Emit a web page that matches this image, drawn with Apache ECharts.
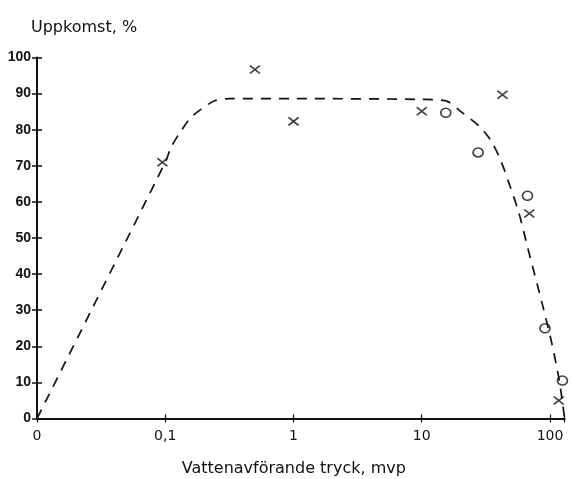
<!DOCTYPE html>
<html>
<head>
<meta charset="utf-8">
<script src="https://cdn.jsdelivr.net/npm/echarts@6/dist/echarts.min.js"></script>
<style>
  html, body { margin: 0; padding: 0; background: #fff; }
  #chart { width: 572px; height: 479px; }
</style>
</head>
<body>
<div id="chart"></div>
<script>
// Water-holding pressure (mvp, log scale; the axis origin is labelled 0) vs. emergence (%)
var xTickValues = [0.01, 0.1, 1, 10, 100];
var xTickLabels = ['0', '0,1', '1', '10', '100'];

// Fitted dashed curve
var curveX = [0.01, 0.1, 0.111, 0.133, 0.159, 0.191, 0.243, 0.318, 1, 10, 15.4, 20.2, 28, 34.6, 41.4, 48.1, 57.5, 66.8, 87.5, 102, 118, 130];
var curveY = [0, 71, 75.1, 79.7, 83.4, 85.7, 88, 88.6, 88.6, 88.4, 88, 85, 81, 77, 71.4, 65, 56.7, 47.5, 31.4, 21.7, 10.6, 0];

// Observations marked with a cross
var crossX = [0.095, 0.5, 1, 10, 42.6, 69, 117];
var crossY = [71, 96.7, 82.3, 85.1, 89.7, 56.8, 5];

// Observations marked with a circle
var circleX = [15.4, 27.5, 66.8, 91.4, 125];
var circleY = [84.7, 73.7, 61.7, 25, 10.5];

function zip(xs, ys) { return xs.map(function (x, i) { return [x, ys[i]]; }); }

function xLabel(value) {
  for (var i = 0; i < xTickValues.length; i++) {
    if (Math.abs(Math.log10(xTickValues[i]) - Math.log10(value)) < 1e-6) return xTickLabels[i];
  }
  return '';
}

var ink = '#111';
// Both grids share one box: the second one only carries the inward half of the crossing ticks
var gridBox = { left: 37, right: 7.4, top: 57.5, bottom: 60.5, containLabel: false, outerBoundsMode: 'none' };
var xMin = 0.01, xMax = 130;

var chart = echarts.init(document.getElementById('chart'), null, { renderer: 'canvas' });
chart.setOption({
  animation: false,
  backgroundColor: '#fff',
  title: {
    text: 'Uppkomst, %',
    left: 26, top: 15,
    textStyle: { fontFamily: 'DejaVu Sans', fontSize: 16, fontWeight: 'normal', color: ink }
  },
  grid: [
    Object.assign({}, gridBox),
    Object.assign({}, gridBox)
  ],
  xAxis: [{
    type: 'log', logBase: 10, gridIndex: 0,
    min: xMin, max: xMax,
    name: 'Vattenavförande tryck, mvp',
    nameLocation: 'middle', nameGap: 42,
    nameTextStyle: { fontFamily: 'DejaVu Sans', fontSize: 16, color: ink, padding: [0, 14, 0, 0] },
    axisLine: { show: true, lineStyle: { color: ink, width: 2 } },
    axisTick: { show: true, inside: false, length: 4, lineStyle: { color: ink, width: 1.2 } },
    axisLabel: {
      show: true, margin: 11, formatter: xLabel,
      fontFamily: 'DejaVu Sans', fontSize: 14, color: ink,
      showMinLabel: true, showMaxLabel: true
    },
    splitLine: { show: false }, minorTick: { show: false }
  }, {
    type: 'log', logBase: 10, gridIndex: 1,
    min: xMin, max: xMax, position: 'bottom',
    axisLine: { show: false },
    axisTick: { show: true, inside: true, length: 4, lineStyle: { color: ink, width: 1.2 } },
    axisLabel: { show: false },
    splitLine: { show: false }
  }],
  yAxis: [{
    type: 'value', gridIndex: 0,
    min: 0, max: 100, interval: 10,
    axisLine: { show: true, lineStyle: { color: ink, width: 2 } },
    axisTick: { show: true, inside: false, length: 5, lineStyle: { color: ink, width: 1.5 } },
    axisLabel: {
      margin: 6, fontFamily: 'Liberation Sans', fontWeight: 'bold', fontSize: 14, color: ink
    },
    splitLine: { show: false }
  }, {
    type: 'value', gridIndex: 1, position: 'left',
    min: 0, max: 100, interval: 10,
    axisLine: { show: false },
    axisTick: { show: true, inside: true, length: 5, lineStyle: { color: ink, width: 1.5 } },
    axisLabel: { show: false },
    splitLine: { show: false }
  }],
  series: [{
    type: 'line',
    xAxisIndex: 0, yAxisIndex: 0,
    data: zip(curveX, curveY),
    smooth: 0.3,
    showSymbol: false,
    symbol: 'none',
    clip: false,
    lineStyle: { color: ink, width: 1.7, type: [10, 8] }
  }, {
    type: 'scatter',
    xAxisIndex: 0, yAxisIndex: 0,
    data: zip(crossX, crossY),
    symbol: 'path://M0,0L12,9M12,0L0,9',
    symbolSize: [10, 8],
    itemStyle: { color: 'rgba(0,0,0,0)', borderColor: ink, borderWidth: 1.7 }
  }, {
    type: 'scatter',
    xAxisIndex: 0, yAxisIndex: 0,
    data: zip(circleX, circleY),
    symbol: 'circle',
    symbolSize: [10, 9],
    itemStyle: { color: 'rgba(0,0,0,0)', borderColor: ink, borderWidth: 1.6 }
  }]
});
</script>
</body>
</html>
